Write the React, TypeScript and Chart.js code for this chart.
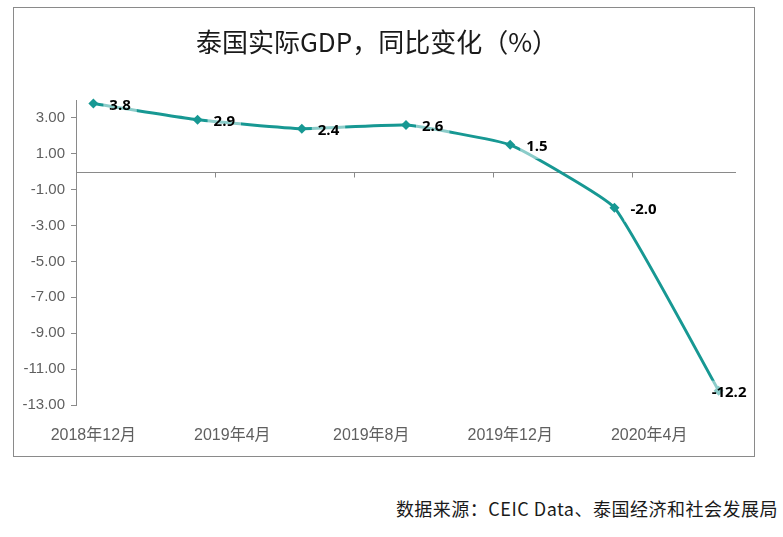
import React, { useEffect, useRef } from "react";
import { Chart, registerables } from "chart.js";

Chart.register(...registerables);

// ---- data ----
const periods = ["2018-12", "2019-03", "2019-06", "2019-09", "2019-12", "2020-03", "2020-06"];
const gdpYoY = [3.8, 2.9, 2.4, 2.6, 1.5, -2.0, -12.2];
const xTickLabels = ["2018年12月", "2019年4月", "2019年8月", "2019年12月", "2020年4月"];
const yTickValues = [-13, -11, -9, -7, -5, -3, -1, 1, 3];
const titleText = "泰国实际GDP，同比变化（%）";
const sourceText = "数据来源：CEIC Data、泰国经济和社会发展局";

const BASE_YEAR = 2018;
const BASE_MONTH = 12;
const monthIndexFromPeriod = (p: string) => {
  const [y, m] = p.split("-").map(Number);
  return (y - BASE_YEAR) * 12 + m - BASE_MONTH;
};
const monthIndexFromLabel = (l: string) => {
  const m = l.match(/(\d+)年(\d+)月/);
  if (!m) return 0;
  return (Number(m[1]) - BASE_YEAR) * 12 + Number(m[2]) - BASE_MONTH;
};

const LINE_COLOR = "#179893";
const AXIS_COLOR = "#8a8a8a";
const TICK_TEXT = "#5f5f5f";

const zeroLinePlugin = {
  id: "zeroLine",
  beforeDatasetsDraw(chart: any) {
    const { ctx, chartArea, scales } = chart;
    const y = Math.round(scales.y.getPixelForValue(0)) + 0.5;
    ctx.save();
    ctx.strokeStyle = AXIS_COLOR;
    ctx.lineWidth = 1;
    ctx.beginPath();
    ctx.moveTo(chartArea.left, y);
    ctx.lineTo(chartArea.right, y);
    const tickPositions = xTickLabels.slice(1).map((l) => monthIndexFromLabel(l) - 0.5);
    tickPositions.forEach((v) => {
      const x = Math.round(scales.x.getPixelForValue(v)) + 0.5;
      ctx.moveTo(x, y);
      ctx.lineTo(x, y + 5);
    });
    ctx.stroke();
    ctx.restore();
  },
};

const labelPlugin = {
  id: "pointLabels",
  afterDatasetsDraw(chart: any) {
    const { ctx } = chart;
    const meta = chart.getDatasetMeta(0);
    ctx.save();
    ctx.font = "bold 15px 'Open Sans', 'Liberation Sans', sans-serif";
    ctx.textBaseline = "middle";
    ctx.textAlign = "left";
    meta.data.forEach((pt: any, i: number) => {
      const text = gdpYoY[i].toFixed(1);
      const w = ctx.measureText(text).width;
      const isLast = i === gdpYoY.length - 1;
      const x = pt.x + (isLast ? -7 : 16);
      const y = pt.y + 2;
      ctx.fillStyle = "rgba(255,255,255,0.5)";
      ctx.fillRect(x - 6, y - 12, w + 12, 24);
      ctx.fillStyle = "#000000";
      ctx.fillText(text, x, y);
    });
    ctx.restore();
  },
};

export default function App() {
  const canvasRef = useRef<HTMLCanvasElement | null>(null);

  useEffect(() => {
    if (!canvasRef.current) return;
    const points = periods.map((p, i) => ({ x: monthIndexFromPeriod(p), y: gdpYoY[i] }));
    const chart = new Chart(canvasRef.current, {
      type: "line",
      data: {
        datasets: [
          {
            data: points,
            borderColor: LINE_COLOR,
            backgroundColor: LINE_COLOR,
            borderWidth: 3,
            tension: 0.12,
            pointStyle: "rectRot",
            pointRadius: 5,
            pointBorderWidth: 0,
            pointBackgroundColor: LINE_COLOR,
            clip: false as any,
          },
        ],
      },
      options: {
        responsive: false,
        animation: false,
        devicePixelRatio: 1,
        layout: { padding: { left: 0, right: 18, top: 92, bottom: 0 } },
        plugins: {
          legend: { display: false },
          tooltip: { enabled: false },
          title: { display: false },
        },
        scales: {
          x: {
            type: "linear",
            min: -0.5,
            max: 18.5,
            border: { display: false },
            grid: { display: false },
            afterBuildTicks: (scale: any) => {
              scale.ticks = xTickLabels.map((l) => ({ value: monthIndexFromLabel(l) }));
            },
            afterFit: (scale: any) => {
              scale.height = 51;
            },
            ticks: {
              autoSkip: false,
              maxRotation: 0,
              padding: 13,
              color: TICK_TEXT,
              font: { size: 16, family: "'Liberation Sans', 'Noto Sans CJK SC', sans-serif" },
              callback: (v: any) => {
                const idx = xTickLabels.findIndex((l) => monthIndexFromLabel(l) === v);
                return idx >= 0 ? xTickLabels[idx] : "";
              },
            },
          },
          y: {
            type: "linear",
            min: -13,
            max: 4,
            border: { display: true, color: AXIS_COLOR, width: 1 },
            grid: {
              display: true,
              drawOnChartArea: false,
              drawTicks: true,
              tickLength: 5,
              color: AXIS_COLOR,
            },
            afterBuildTicks: (scale: any) => {
              scale.ticks = yTickValues.map((v) => ({ value: v }));
            },
            afterFit: (scale: any) => {
              scale.width = 62;
            },
            ticks: {
              padding: 6,
              color: TICK_TEXT,
              font: { size: 15, family: "'Liberation Sans', sans-serif" },
              callback: (v: any) => Number(v).toFixed(2),
            },
          },
        },
      },
      plugins: [zeroLinePlugin, labelPlugin],
    });
    return () => chart.destroy();
  }, []);

  return (
    <div style={{ position: "absolute", left: 0, top: 0, width: 783, height: 537, background: "#fff", overflow: "hidden" }}>
      <div
        style={{
          position: "absolute",
          left: 13,
          top: 7,
          width: 740,
          height: 448,
          border: `1px solid ${AXIS_COLOR}`,
          background: "#fff",
        }}
      >
        <canvas ref={canvasRef} width={740} height={448} style={{ display: "block" }} />
        <div
          style={{
            position: "absolute",
            left: 0,
            top: 17,
            width: 726,
            textAlign: "center",
            fontFamily: "'Noto Sans CJK SC', sans-serif",
            fontSize: 26,
            lineHeight: "32px",
            color: "#1a1a1a",
            whiteSpace: "nowrap",
          }}
        >
          {titleText}
        </div>
      </div>
      <div
        style={{
          position: "absolute",
          right: 5,
          top: 497,
          fontFamily: "'Noto Sans CJK SC', sans-serif",
          fontSize: 18,
          letterSpacing: "0.5px",
          lineHeight: "22px",
          color: "#1a1a1a",
          whiteSpace: "nowrap",
        }}
      >
        {sourceText}
      </div>
    </div>
  );
}
